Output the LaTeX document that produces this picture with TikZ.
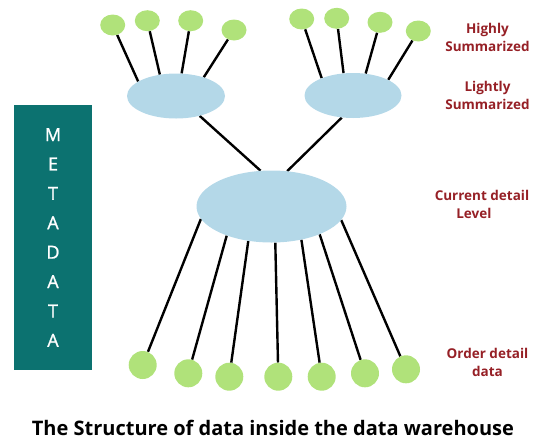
\documentclass[tikz,border=0pt]{standalone}
\usepackage{fontspec}
\setmainfont{Open Sans}
\newfontfamily\metafont[FakeBold=1.2]{Open Sans}
\usetikzlibrary{shapes.geometric,backgrounds}
\definecolor{leaf}{RGB}{176,226,122}
\definecolor{pool}{RGB}{180,216,232}
\definecolor{metateal}{RGB}{12,114,112}
\definecolor{labelred}{RGB}{150,32,38}
\begin{document}
\begin{tikzpicture}[x=1pt,y=-1pt,
  leafnode/.style={ellipse, fill=leaf, minimum width=25pt, minimum height=21pt, inner sep=0pt},
  ball/.style={circle, fill=leaf, minimum size=28pt, inner sep=0pt},
  poolnode/.style={ellipse, fill=pool, inner sep=0pt},
  link/.style={line width=2.4pt, black},
  tag/.style={text=labelred, font=\bfseries\fontsize{13.5}{18}\selectfont, align=center, inner sep=0pt}]
\useasboundingbox (0,0) rectangle (535,440);

% summary pools and current detail pool
\node[poolnode, minimum width=98pt, minimum height=45pt] (lsum) at (176,96) {};
\node[poolnode, minimum width=97pt, minimum height=45pt] (rsum) at (353,95.5) {};
\node[poolnode, minimum width=150pt, minimum height=72pt] (cur) at (271.5,206.5) {};

% highly summarized leaves
\node[leafnode] (g1) at (112.7,25) {};
\node[leafnode] (g2) at (147.3,20.7) {};
\node[leafnode] (g3) at (190.7,20.7) {};
\node[leafnode] (g4) at (234,30) {};
\node[leafnode] (g5) at (301.7,19) {};
\node[leafnode] (g6) at (336.7,18.3) {};
\node[leafnode] (g7) at (380,22.3) {};
\node[leafnode] (g8) at (418.3,31) {};

% order detail data
\node[ball] (b1) at (142.7,365) {};
\node[ball] (b2) at (188.3,373.3) {};
\node[ball] (b3) at (229.3,376.7) {};
\node[ball] (b4) at (278.3,376.7) {};
\node[ball] (b5) at (321.7,376.7) {};
\node[ball] (b6) at (365,373.3) {};
\node[ball] (b7) at (406,369.3) {};

\begin{scope}[on background layer]
  \draw[link] (g1) -- (lsum.159);
  \draw[link] (g2) -- (lsum.127);
  \draw[link] (g3) -- (lsum.76);
  \draw[link] (g4) -- (lsum.34);
  \draw[link] (g5) -- (rsum.151);
  \draw[link] (g6) -- (rsum.113);
  \draw[link] (g7) -- (rsum.60);
  \draw[link] (g8) -- (rsum.24);
  \draw[link] (lsum.-40) -- (cur.107);
  \draw[link] (rsum.-117) -- (cur.66);
  \draw[link] (b1) -- (cur.190.7);
  \draw[link] (b2) -- (cur.213);
  \draw[link] (b3) -- (cur.236.6);
  \draw[link] (b4) -- (cur.276.5);
  \draw[link] (b5) -- (cur.312);
  \draw[link] (b6) -- (cur.330.7);
  \draw[link] (b7) -- (cur.349);
\end{scope}

% level labels
\node[tag] (hs) at (487.5,37) {Highly\\Summarized};
\node[tag] (ls) at (487.5,95) {Lightly\\Summarized};
\node[tag] (cd) at (482,204) {Current detail\\Level\hspace*{1.2em}};
\node[tag] (od) at (487.5,362) {Order detail\\data};

% metadata bar
\node[fill=metateal, minimum width=78pt, minimum height=265pt, inner sep=0pt,
      text=white, align=center, font=\metafont\fontsize{18}{29.4}\selectfont] (meta) at (53,237.5)
  {M\\E\\T\\A\\D\\A\\T\\A};

% caption
\node[font=\bfseries\fontsize{20}{24}\selectfont, anchor=base west, inner sep=0pt] (title) at (31.7,435)
  {The Structure of data inside the data warehouse};
\end{tikzpicture}
\end{document}
